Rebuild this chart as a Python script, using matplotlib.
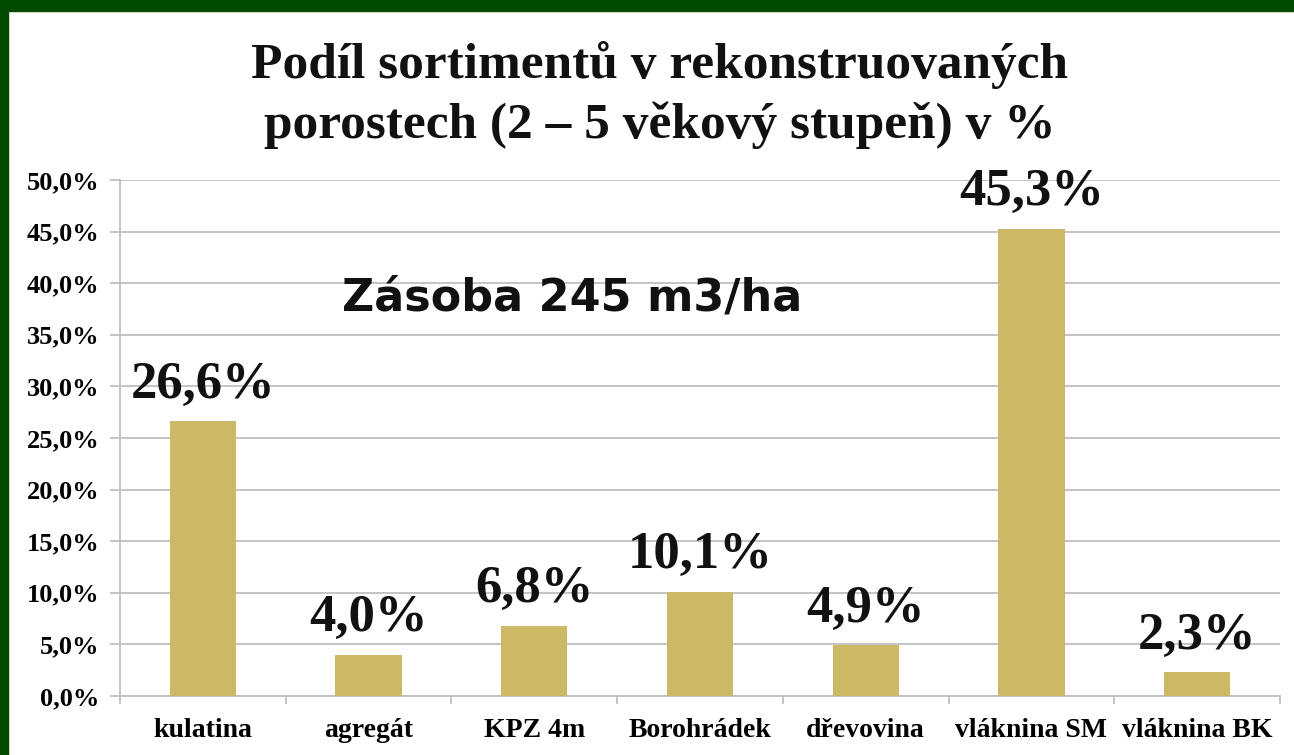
import numpy as np
import matplotlib.pyplot as plt
from matplotlib.ticker import FuncFormatter, FixedLocator

# data
kategorie = ['kulatina', 'agregát', 'KPZ 4m', 'Borohrádek', 'dřevovina', 'vláknina SM', 'vláknina BK']
podil = [26.6, 4.0, 6.8, 10.1, 4.9, 45.3, 2.3]

plt.rcParams['font.family'] = ['Liberation Serif', 'DejaVu Serif']

fig = plt.figure(figsize=(12.94, 7.55), dpi=100)
fig.patch.set_facecolor('white')

# green frame on top and left
fig.patches.append(plt.Rectangle((0, 1 - 11 / 755), 1, 11 / 755, transform=fig.transFigure,
                                 color='#004b00', zorder=0))
fig.patches.append(plt.Rectangle((0, 0), 8 / 1294, 1, transform=fig.transFigure,
                                 color='#004b00', zorder=0))

ax = fig.add_axes([120 / 1294, 1 - 696 / 755, 1160 / 1294, 516 / 755])
x = np.arange(len(kategorie))
ax.bar(x, podil, width=0.4, color='#cdb866', zorder=3)

ax.set_xlim(-0.5, len(kategorie) - 0.5)
ax.set_ylim(0, 50)
ax.set_yticks(np.arange(0, 55, 5))
ax.yaxis.set_major_formatter(FuncFormatter(lambda v, p: f'{v:.1f}%'.replace('.', ',')))
ax.grid(axis='y', color='#bfbfbf', linewidth=1.3, zorder=0)

ax.set_xticks(x)
ax.set_xticklabels(kategorie, fontsize=20, fontweight='bold')
ax.xaxis.set_minor_locator(FixedLocator(np.arange(-0.5, len(kategorie), 1)))
ax.tick_params(axis='x', which='major', length=0, pad=16)
ax.tick_params(axis='x', which='minor', length=6, color='#bfbfbf', width=1.3)
ax.tick_params(axis='y', length=7, color='#bfbfbf', width=1.3, labelsize=19, pad=8)
for lab in ax.get_yticklabels():
    lab.set_fontweight('bold')

for s in ['top', 'right']:
    ax.spines[s].set_visible(False)
for s in ['left', 'bottom']:
    ax.spines[s].set_color('#bfbfbf')
    ax.spines[s].set_linewidth(1.3)

for xi, v in zip(x, podil):
    ax.text(xi, v + 1.2, f'{v:.1f}%'.replace('.', ','), ha='center', va='bottom',
            fontsize=38, fontweight='bold', color='#111111', zorder=4)

fig.text(660 / 1294, 1 - 95 / 755, 'Podíl sortimentů v rekonstruovaných\nporostech (2 – 5 věkový stupeň) v %',
         ha='center', va='center', fontsize=37, fontweight='bold', color='#111111',
         linespacing=1.35)

ax.text(572 / 1294, 1 - 298 / 755, 'Zásoba 245 m3/ha', transform=fig.transFigure,
        ha='center', va='center', fontsize=32, fontweight='bold', family='DejaVu Sans',
        color='#111111')

fig.savefig('out.png', dpi=100)
